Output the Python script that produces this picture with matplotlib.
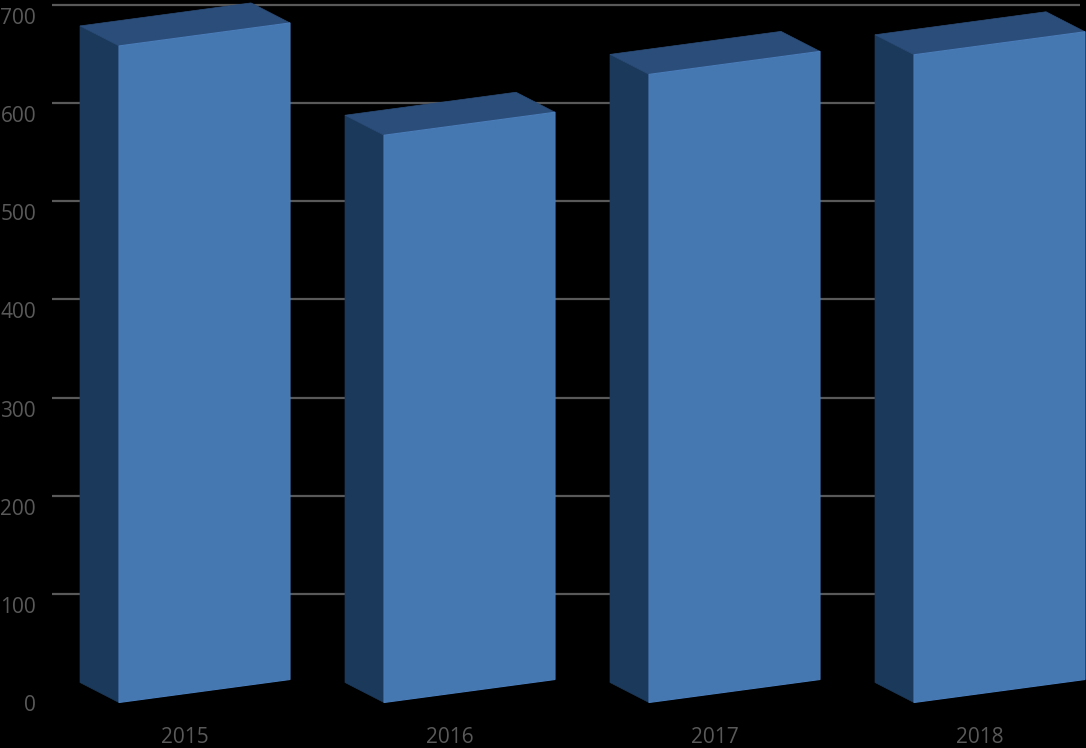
import numpy as np
import matplotlib
matplotlib.use("Agg")
import matplotlib.pyplot as plt
from matplotlib.transforms import ScaledTranslation

'''DATA'''
years = ["2015", "2016", "2017", "2018"]
values = [669, 578, 640, 660]
y_ticks = [0, 100, 200, 300, 400, 500, 600, 700]

'''STYLE'''
plt.rcParams['font.family'] = ['Open Sans', 'DejaVu Sans']
bg = "#000000"
text_col = "#595959"
front_col = "#4577b0"
side_col = "#1b395b"
top_col = "#2b4d79"

W, H = 1086, 748
fig = plt.figure(figsize=(W/100, H/100), dpi=100, facecolor=bg)
#axes box matches the gridline span (pixels)
ax = fig.add_axes([52/W, (H-692)/H, (1080-52)/W, (692-5)/H], facecolor=bg)

px_x = 265                    #pixels per category
px_y = 687/700                #pixels per unit of value
ax.set_xlim((52-185)/px_x, (1080-185)/px_x)
ax.set_ylim(0, 700)

#Gridlines (none at zero)
ax.hlines(y_ticks[1:], *ax.get_xlim(), color=text_col, lw=1.6, zorder=1, clip_on=False)

#Box geometry in data units
x_left = -66/px_x             #front face left edge from category centre
x_width = 171/px_x            #front face width
dx = -39/px_x                 #depth going left
dy = 20/px_y                  #depth going up
rise = 23/px_y                #front face rises to the right
base = -10.5/px_y             #bottom left corner of front face

for i, val in enumerate(values):
    x0 = i+x_left
    x1 = x0+x_width
    y_l0, y_l1 = base, base+val
    y_r0, y_r1 = base+rise, base+rise+val
    ax.fill([x0+dx, x0, x0, x0+dx], [y_l0+dy, y_l0, y_l1, y_l1+dy],
            color=side_col, lw=0.5, zorder=3, clip_on=False)
    ax.fill([x0, x1, x1+dx, x0+dx], [y_l1, y_r1, y_r1+dy, y_l1+dy],
            color=top_col, lw=0.5, zorder=3, clip_on=False)
    ax.fill([x0, x1, x1, x0], [y_l0, y_r0, y_r1, y_l1],
            facecolor=front_col, edgecolor="#4a7dba", lw=0.8, zorder=4, clip_on=False)

#Axis text
ax.set_yticks(y_ticks)
ax.set_xticks(range(len(years)))
ax.set_xticklabels(years)
ax.tick_params(axis='both', length=0, labelsize=15, colors=text_col)
ax.tick_params(axis='y', pad=11.5)
ax.tick_params(axis='x', pad=25)
shift = ScaledTranslation(0, -11/100, fig.dpi_scale_trans)
for lab in ax.get_yticklabels():
    lab.set_transform(lab.get_transform()+shift)
for s in ax.spines.values():
    s.set_visible(False)

fig.savefig("out.png", dpi=100, facecolor=bg)
